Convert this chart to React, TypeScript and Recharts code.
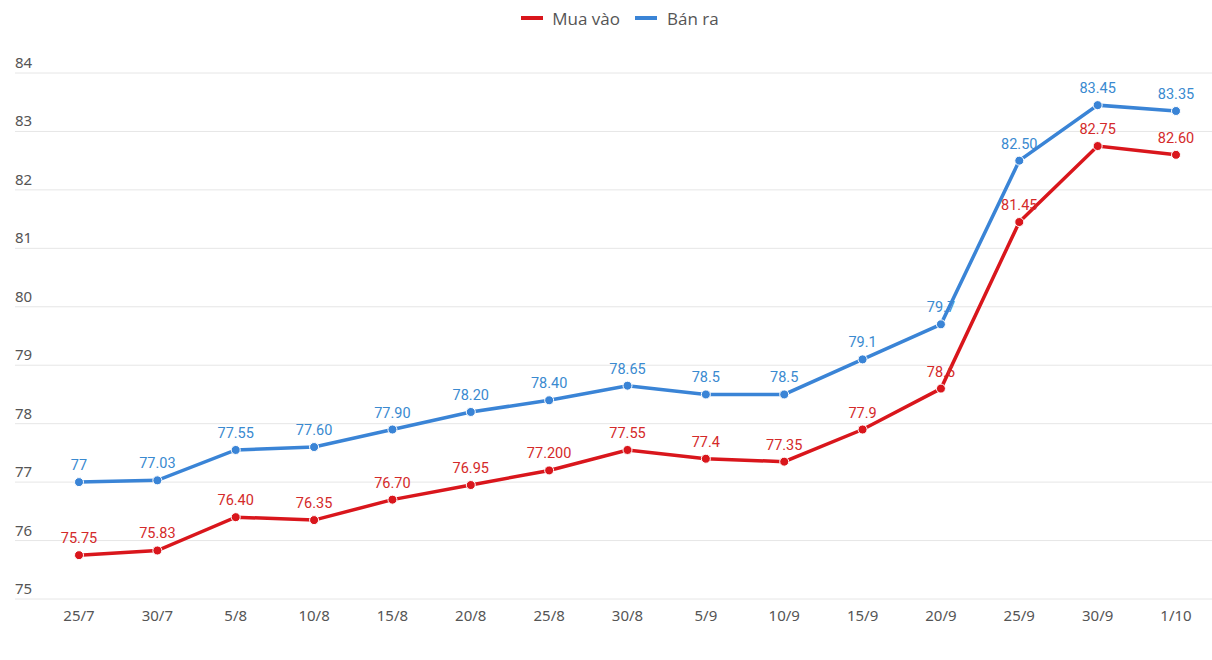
import React from 'react';
import { LineChart, Line, XAxis, YAxis, CartesianGrid, Legend, LabelList } from 'recharts';

const categories = ['25/7', '30/7', '5/8', '10/8', '15/8', '20/8', '25/8', '30/8', '5/9', '10/9', '15/9', '20/9', '25/9', '30/9', '1/10'];
const muaVao = [75.75, 75.83, 76.4, 76.35, 76.7, 76.95, 77.2, 77.55, 77.4, 77.35, 77.9, 78.6, 81.45, 82.75, 82.6];
const banRa = [77, 77.03, 77.55, 77.6, 77.9, 78.2, 78.4, 78.65, 78.5, 78.5, 79.1, 79.7, 82.5, 83.45, 83.35];
const muaVaoLabels = ['75.75', '75.83', '76.40', '76.35', '76.70', '76.95', '77.200', '77.55', '77.4', '77.35', '77.9', '78.6', '81.45', '82.75', '82.60'];
const banRaLabels = ['77', '77.03', '77.55', '77.60', '77.90', '78.20', '78.40', '78.65', '78.5', '78.5', '79.1', '79.7', '82.50', '83.45', '83.35'];
const yTicks = [75, 76, 77, 78, 79, 80, 81, 82, 83, 84];

const data = categories.map((c, i) => ({
  name: c,
  mua: muaVao[i],
  ban: banRa[i],
  muaLabel: muaVaoLabels[i],
  banLabel: banRaLabels[i],
}));

const RED = '#d9161c';
const BLUE = '#3a84d6';
const RED_TEXT = '#d42a2a';
const BLUE_TEXT = '#3a8ad0';

const YTick = (props: any) => {
  const { y, payload } = props;
  return (
    <text x={15} y={y - 5} fill="#555" fontSize={15} fontFamily="Noto Sans" textAnchor="start">
      {payload.value}
    </text>
  );
};

const LegendContent = () => (
  <div style={{ display: 'flex', justifyContent: 'center', alignItems: 'center', height: 36, paddingLeft: 14, fontFamily: 'Open Sans', fontSize: 17, color: '#555' }}>
    <div style={{ display: 'flex', alignItems: 'center', marginRight: 15 }}>
      <div style={{ width: 22, height: 4, background: RED, marginRight: 9 }} />
      <span>Mua vào</span>
    </div>
    <div style={{ display: 'flex', alignItems: 'center' }}>
      <div style={{ width: 22, height: 4, background: BLUE, marginRight: 10 }} />
      <span>Bán ra</span>
    </div>
  </div>
);

export default function App() {
  return (
    <div style={{ position: 'absolute', left: 0, top: 0, background: '#fff' }}>
      <LineChart width={1212} height={660} data={data} margin={{ top: 37, right: 0, left: 14, bottom: 0 }}>
        <CartesianGrid vertical={false} stroke="#e6e6e6" />
        <XAxis
          dataKey="name"
          axisLine={false}
          tickLine={false}
          tickMargin={5}
          height={61}
          interval={0}
          padding={{ left: 64, right: 36 }}
          tick={{ fill: '#555', fontSize: 15, fontFamily: 'Noto Sans' }}
        />
        <YAxis
          width={1}
          domain={[75, 84]}
          ticks={yTicks}
          axisLine={false}
          tickLine={false}
          tick={<YTick />}
        />
        <Legend verticalAlign="top" align="center" content={<LegendContent />} wrapperStyle={{ top: 0 }} />
        <Line dataKey="mua" stroke="none" dot={false} isAnimationActive={false} legendType="none">
          <LabelList dataKey="muaLabel" position="top" offset={12} fill={RED_TEXT} fontSize={14.5} fontFamily="Roboto" />
        </Line>
        <Line dataKey="ban" stroke="none" dot={false} isAnimationActive={false} legendType="none">
          <LabelList dataKey="banLabel" position="top" offset={12} fill={BLUE_TEXT} fontSize={14.5} fontFamily="Roboto" />
        </Line>
        <Line
          dataKey="mua"
          name="Mua vào"
          stroke={RED}
          strokeWidth={3.5}
          dot={{ r: 4.5, fill: RED, stroke: '#fff', strokeWidth: 1 }}
          activeDot={false}
          isAnimationActive={false}
        />
        <Line
          dataKey="ban"
          name="Bán ra"
          stroke={BLUE}
          strokeWidth={3.5}
          dot={{ r: 4.5, fill: BLUE, stroke: '#fff', strokeWidth: 1 }}
          activeDot={false}
          isAnimationActive={false}
        />
      </LineChart>
    </div>
  );
}
